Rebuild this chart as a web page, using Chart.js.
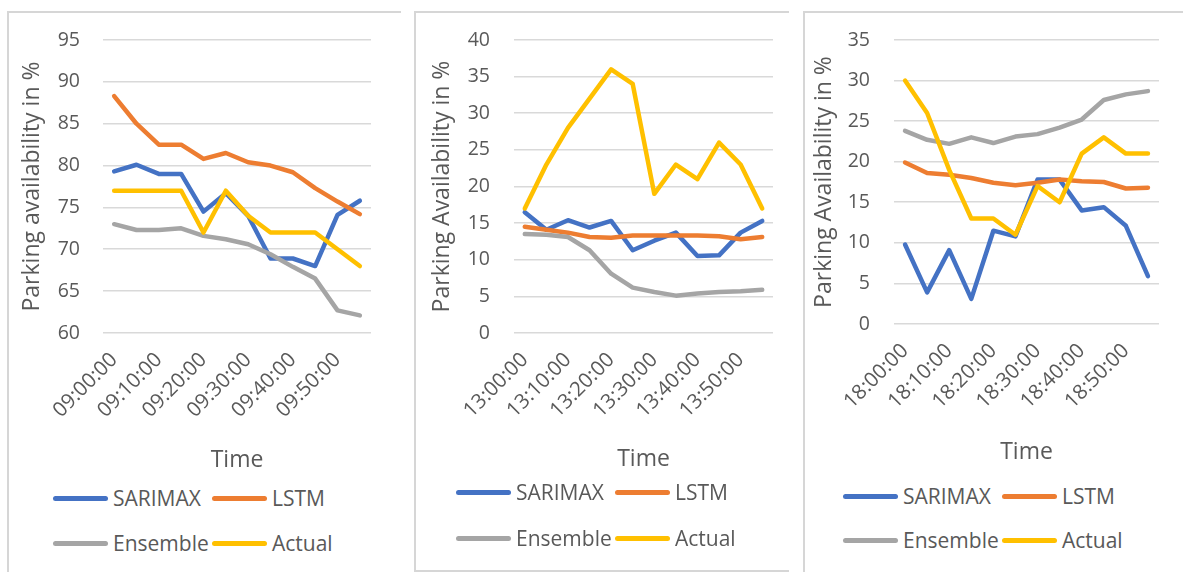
<!DOCTYPE html>
<html>
<head>
<meta charset="utf-8">
<script src="https://cdn.jsdelivr.net/npm/chart.js@4.4.1/dist/chart.umd.min.js"></script>
<style>
  html, body { margin: 0; padding: 0; background: #ffffff; }
  body { width: 1183px; height: 572px; position: relative; overflow: hidden; font-family: "Open Sans", sans-serif; }
  .frame { position: absolute; border: 0 solid #d6d6d6; box-sizing: border-box; }
  canvas { position: absolute; }
  .legend-item { position: absolute; display: flex; align-items: center; color: #595959; font-size: 21px; white-space: nowrap; line-height: 1; }
  .legend-item .swatch { width: 55px; height: 5px; border-radius: 2.5px; margin-right: 5px; }
</style>
</head>
<body>
<div class="frame" style="left:7px; top:11px; width:394px; height:600px; border-left-width:2px; border-top-width:2px;"></div>
<div class="frame" style="left:414px; top:11px; width:375px; height:561px; border-left-width:2px; border-top-width:2px; border-bottom-width:2px;"></div>
<div class="frame" style="left:803px; top:11px; width:400px; height:600px; border-left-width:2px; border-top-width:2px;"></div>

<canvas id="c1" width="394" height="470" style="left:7px; top:11px;"></canvas>
<canvas id="c2" width="375" height="470" style="left:414px; top:11px;"></canvas>
<canvas id="c3" width="380" height="470" style="left:803px; top:11px;"></canvas>

<script>
// Morning window, 09:00 - 09:55 (5-minute steps)
const times1 = ['09:00:00','09:05:00','09:10:00','09:15:00','09:20:00','09:25:00','09:30:00','09:35:00','09:40:00','09:45:00','09:50:00','09:55:00'];
const sarimax1  = [79.3, 80.1, 79.0, 79.0, 74.5, 76.7, 74.0, 68.9, 68.9, 68.0, 74.1, 75.8];
const lstm1     = [88.3, 85.0, 82.5, 82.5, 80.8, 81.5, 80.4, 80.0, 79.2, 77.3, 75.7, 74.2];
const ensemble1 = [73.0, 72.3, 72.3, 72.5, 71.6, 71.2, 70.6, 69.4, 67.9, 66.5, 62.7, 62.1];
const actual1   = [77, 77, 77, 77, 72, 77, 74, 72, 72, 72, 70, 68];

// Midday window, 13:00 - 13:55
const times2 = ['13:00:00','13:05:00','13:10:00','13:15:00','13:20:00','13:25:00','13:30:00','13:35:00','13:40:00','13:45:00','13:50:00','13:55:00'];
const sarimax2  = [16.5, 14.1, 15.4, 14.4, 15.3, 11.3, 12.6, 13.7, 10.5, 10.6, 13.7, 15.3];
const lstm2     = [14.5, 14.1, 13.7, 13.1, 13.0, 13.3, 13.3, 13.3, 13.3, 13.2, 12.8, 13.1];
const ensemble2 = [13.5, 13.4, 13.1, 11.3, 8.1, 6.2, 5.6, 5.1, 5.4, 5.6, 5.7, 5.9];
const actual2   = [17, 23, 28, 32, 36, 34, 19, 23, 21, 26, 23, 17];

// Evening window, 18:00 - 18:55
const times3 = ['18:00:00','18:05:00','18:10:00','18:15:00','18:20:00','18:25:00','18:30:00','18:35:00','18:40:00','18:45:00','18:50:00','18:55:00'];
const sarimax3  = [9.8, 3.9, 9.1, 3.1, 11.5, 10.8, 17.8, 17.8, 14.0, 14.4, 12.1, 5.9];
const lstm3     = [19.9, 18.6, 18.4, 18.0, 17.4, 17.1, 17.4, 17.8, 17.6, 17.5, 16.7, 16.8];
const ensemble3 = [23.8, 22.7, 22.2, 23.0, 22.3, 23.1, 23.4, 24.2, 25.2, 27.6, 28.3, 28.7];
const actual3   = [30, 26, 19, 13, 13, 11, 17, 15, 21, 23, 21, 21];

const seriesNames = ['SARIMAX', 'LSTM', 'Ensemble', 'Actual'];
const seriesColors = ['#4472C4', '#ED7D31', '#A5A5A5', '#FFC000'];

const TEXT = '#595959';
const GRID = '#d9d9d9';
const FONT = '"Open Sans", sans-serif';

function makeDatasets(values) {
  return values.map((v, i) => ({
    label: seriesNames[i],
    data: v,
    borderColor: seriesColors[i],
    backgroundColor: seriesColors[i],
    borderWidth: 4.5,
    pointRadius: 0,
    pointHoverRadius: 0,
    tension: 0,
    fill: false,
    borderCapStyle: 'round',
    borderJoinStyle: 'round',
    order: values.length - i   // later series painted on top
  }));
}

function makeChart(id, cfg) {
  const canvas = document.getElementById(id);
  const W = canvas.width, H = canvas.height;
  return new Chart(canvas, {
    type: 'line',
    data: { labels: cfg.labels, datasets: makeDatasets(cfg.series) },
    options: {
      responsive: false,
      animation: false,
      events: [],
      layout: { padding: { left: 0, top: cfg.area.top, right: W - cfg.area.right, bottom: 0 } },
      plugins: { legend: { display: false }, tooltip: { enabled: false } },
      scales: {
        x: {
          type: 'category',
          offset: true,
          grid: { display: false, drawTicks: false },
          border: { display: false },
          ticks: {
            autoSkip: false,
            minRotation: 45,
            maxRotation: 45,
            padding: 15,
            color: TEXT,
            font: { family: FONT, size: 20.5 },
            callback: function (value, index) {
              return index % 2 === 0 ? this.getLabelForValue(value) : '';
            }
          },
          title: {
            display: true,
            text: 'Time',
            color: TEXT,
            font: { family: FONT, size: 23 },
            padding: { top: 0, bottom: cfg.xTitlePad }
          },
          afterFit: (scale) => {
            scale.height = H - cfg.area.bottom;
            scale.paddingLeft = 0;
            scale.paddingRight = 0;
          }
        },
        y: {
          min: cfg.yMin,
          max: cfg.yMax,
          grid: { color: GRID, lineWidth: 1.6, drawTicks: false },
          border: { display: false },
          ticks: {
            stepSize: 5,
            padding: cfg.area.left - cfg.tickRight,
            color: TEXT,
            font: { family: FONT, size: 19.5 }
          },
          title: {
            display: true,
            text: cfg.yTitle,
            color: TEXT,
            font: { family: FONT, size: 23 },
            padding: { top: cfg.yTitlePad, bottom: 0 }
          },
          afterFit: (scale) => {
            scale.width = cfg.area.left;
            scale.paddingTop = 0;
            scale.paddingBottom = 0;
          }
        }
      }
    }
  });
}

function makeLegend(chart, spots) {
  chart.data.datasets.forEach((ds, i) => {
    const item = document.createElement('div');
    item.className = 'legend-item';
    const sw = document.createElement('span');
    sw.className = 'swatch';
    sw.style.background = ds.borderColor;
    const tx = document.createElement('span');
    tx.textContent = ds.label;
    item.appendChild(sw);
    item.appendChild(tx);
    item.style.left = spots[i][0] + 'px';
    item.style.top = (spots[i][1] - 12) + 'px';
    item.style.height = '24px';
    document.body.appendChild(item);
  });
}

const chart1 = makeChart('c1', {
  labels: times1,
  series: [sarimax1, lstm1, ensemble1, actual1],
  yMin: 60, yMax: 95,
  yTitle: 'Parking availability in %',
  area: { left: 96, right: 364, top: 29, bottom: 322 },
  tickRight: 73, yTitlePad: 12, xTitlePad: 7
});
const chart2 = makeChart('c2', {
  labels: times2,
  series: [sarimax2, lstm2, ensemble2, actual2],
  yMin: 0, yMax: 40,
  yTitle: 'Parking Availability in %',
  area: { left: 100, right: 359, top: 29, bottom: 322 },
  tickRight: 76, yTitlePad: 15, xTitlePad: 8
});
const chart3 = makeChart('c3', {
  labels: times3,
  series: [sarimax3, lstm3, ensemble3, actual3],
  yMin: 0, yMax: 35,
  yTitle: 'Parking Availability in %',
  area: { left: 91, right: 356, top: 29, bottom: 313 },
  tickRight: 67, yTitlePad: 8, xTitlePad: 15
});

makeLegend(chart1, [[53, 498], [212, 498], [53, 543], [212, 543]]);
makeLegend(chart2, [[456, 492], [615, 492], [456, 538], [615, 538]]);
makeLegend(chart3, [[843, 496], [1002, 496], [843, 540], [1002, 540]]);
</script>
</body>
</html>
